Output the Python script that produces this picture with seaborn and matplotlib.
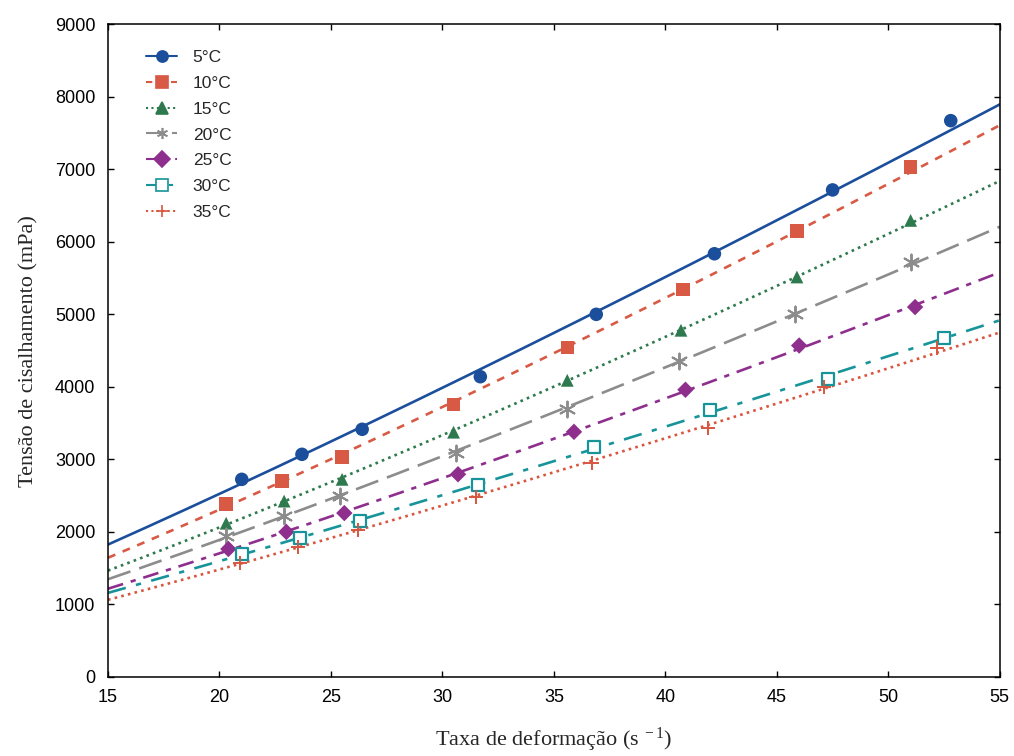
import matplotlib
matplotlib.use("Agg")
import matplotlib.pyplot as plt
from matplotlib.lines import Line2D
import numpy as np
import seaborn as sns

# ---- data ----
labels = ["5°C", "10°C", "15°C", "20°C", "25°C", "30°C", "35°C"]
x5 = [21.0, 23.7, 26.4, 31.7, 36.9, 42.2, 47.5, 52.8]
y5 = [2725, 3070, 3415, 4140, 5000, 5835, 6715, 7670]
x10 = [20.3, 22.8, 25.5, 30.5, 35.6, 40.8, 45.9, 51.0]
y10 = [2385, 2700, 3030, 3760, 4540, 5340, 6150, 7030]
x15 = [20.3, 22.9, 25.5, 30.5, 35.6, 40.7, 45.9, 51.0]
y15 = [2120, 2425, 2725, 3375, 4090, 4780, 5515, 6295]
x20 = [20.3, 22.9, 25.4, 30.6, 35.6, 40.6, 45.8, 51.0]
y20 = [1940, 2220, 2495, 3085, 3700, 4350, 5010, 5720]
x25 = [20.4, 23.0, 25.6, 30.7, 35.9, 40.9, 46.0, 51.2]
y25 = [1765, 2000, 2260, 2795, 3380, 3960, 4570, 5100]
x30 = [21.0, 23.6, 26.3, 31.6, 36.8, 42.0, 47.3, 52.5]
y30 = [1695, 1915, 2150, 2645, 3170, 3685, 4105, 4680]
x35 = [20.9, 23.5, 26.2, 31.5, 36.7, 41.9, 47.1, 52.2]
y35 = [1570, 1790, 2025, 2480, 2945, 3435, 4000, 4530]
xs = [x5, x10, x15, x20, x25, x30, x35]
ys = [y5, y10, y15, y20, y25, y30, y35]

x_ticks = [15, 20, 25, 30, 35, 40, 45, 50, 55]
y_ticks = [0, 1000, 2000, 3000, 4000, 5000, 6000, 7000, 8000, 9000]

# ---- styles ----
colors = ["#1b4f9c", "#d85a45", "#2e7a4e", "#8c8c8c", "#8e2f8e", "#17949a", "#d8563f"]
markers = ["o", "s", "^", (6, 2, 0), "D", "s", "+"]
filled = [True, True, True, True, True, False, True]
msizes = [95, 95, 85, 130, 70, 85, 110]
lstyles = ["-", (0, (3, 3)), (0, (1, 1.6)), (0, (9, 3.5)), (0, (6, 3, 2, 3)),
           (0, (7, 4, 2, 4)), (0, (1, 1.6))]

sns.set_theme(style="ticks")
plt.rcParams["font.family"] = ["Liberation Sans", "DejaVu Sans"]
plt.rcParams["mathtext.fontset"] = "custom"
plt.rcParams["mathtext.rm"] = "Liberation Serif"
plt.rcParams["mathtext.it"] = "Liberation Serif:italic"
plt.rcParams["mathtext.default"] = "rm"

fig = plt.figure(figsize=(10.14, 7.56), dpi=100)
ax = fig.add_axes([0.1065, 0.1045, 0.8795, 0.8635])
ax.set_xlim(15, 55)
ax.set_ylim(0, 9000)
xfit = np.linspace(*ax.get_xlim(), 300)

handles = []
for i in range(len(labels)):
    # power-law (Ostwald-de Waele) fit of the points: tau = K * rate^n
    n, logK = np.polyfit(np.log(xs[i]), np.log(ys[i]), 1)
    yfit = np.exp(logK) * xfit ** n
    sns.lineplot(x=xfit, y=yfit, ax=ax, color=colors[i], linestyle=lstyles[i],
                 linewidth=1.9, zorder=2)
    if filled[i]:
        line_marker = markers[i] in ["+", (6, 2, 0)]
        sns.scatterplot(x=xs[i], y=ys[i], ax=ax, marker=markers[i], s=msizes[i],
                        color=colors[i], edgecolor=colors[i] if line_marker else "none",
                        linewidth=1.4 if line_marker else 0, zorder=3)
    else:
        sns.scatterplot(x=xs[i], y=ys[i], ax=ax, marker=markers[i], s=msizes[i],
                        facecolor="white", edgecolor=colors[i], linewidth=1.6, zorder=3)
    handles.append(Line2D([0], [0], color=colors[i], linestyle=lstyles[i], linewidth=1.5,
                          marker=markers[i], markersize=8,
                          markerfacecolor=colors[i] if filled[i] else "white",
                          markeredgecolor=colors[i], markeredgewidth=1.2))

ax.set_xlim(15, 55)
ax.set_ylim(0, 9000)
ax.set_xticks(x_ticks)
ax.set_yticks(y_ticks)
ax.tick_params(direction="in", top=True, right=True, length=4, width=1,
               labelsize=13, colors="black", pad=9)
for sp in ax.spines.values():
    sp.set_visible(True)
    sp.set_color("black")
    sp.set_linewidth(1.1)

ax.set_xlabel("Taxa de deformação (s$^{\\ -1}$)", family="Liberation Serif", fontsize=16,
              labelpad=14)
ax.set_ylabel("Tensão de cisalhamento (mPa)", family="Liberation Serif", fontsize=16,
              labelpad=12)

leg = ax.legend(handles, labels, loc="upper left", bbox_to_anchor=(0.025, 0.985),
                frameon=False, fontsize=12.5, handlelength=1.8, labelspacing=0.62,
                handletextpad=0.9)

fig.savefig("out.png", dpi=100)
